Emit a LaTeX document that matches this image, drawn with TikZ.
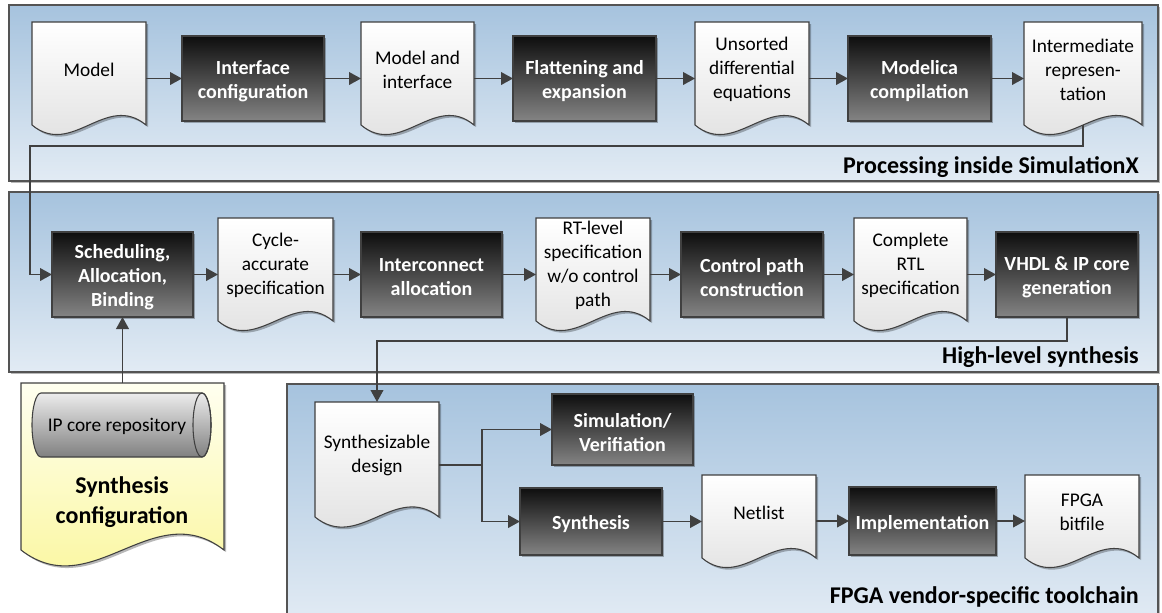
\documentclass[tikz,border=0pt]{standalone}
\usepackage{fontspec}
\setmainfont{Carlito}
\usetikzlibrary{arrows.meta,calc,fit,shadows}

\definecolor{panelTop}{RGB}{166,195,222}
\definecolor{panelBot}{RGB}{226,235,244}
\definecolor{frameC}{RGB}{84,84,84}
\definecolor{lineC}{RGB}{64,64,64}
\definecolor{boxTop}{RGB}{14,14,14}
\definecolor{boxBot}{RGB}{132,132,132}
\definecolor{docBot}{RGB}{222,222,222}
\definecolor{cfgTop}{RGB}{255,255,240}
\definecolor{cfgBot}{RGB}{250,246,150}
\definecolor{cylTop}{RGB}{236,236,236}
\definecolor{cylBot}{RGB}{128,128,128}

\tikzset{
  softshadow/.style={drop shadow={shadow xshift=1.6pt, shadow yshift=-1.6pt, opacity=0.28, fill=black}},
  panel/.style={draw=frameC, line width=1.1pt, top color=panelTop, bottom color=panelBot,
    inner sep=0pt, outer sep=0pt, softshadow},
  procbox/.style={draw=lineC, line width=0.8pt, top color=boxTop, bottom color=boxBot,
    inner sep=0pt, outer sep=0pt, softshadow},
  boxtxt/.style={text=white, font=\fontsize{15}{18}\selectfont\bfseries, align=center, inner sep=0pt},
  docframe/.style={inner sep=0pt, outer sep=0pt},
  docfill/.style={draw=lineC, line width=0.8pt, top color=white, bottom color=docBot, softshadow},
  cfgfill/.style={draw=lineC, line width=0.8pt, top color=cfgTop, bottom color=cfgBot, softshadow},
  txt/.style={font=\fontsize{14.5}{18}\selectfont, align=center, text=black, inner sep=0pt},
  bigtxt/.style={font=\fontsize{18}{22}\selectfont\bfseries, align=center, text=black, inner sep=0pt},
  paneltitle/.style={font=\fontsize{18}{21}\selectfont\bfseries, anchor=east, text=black, inner sep=0pt},
  arr/.style={draw=lineC, line width=1.3pt, -{Triangle[length=9pt,width=9.5pt]}},
  wire/.style={draw=lineC, line width=1.3pt},
}

% document symbol: rectangle with a wavy lower edge
% #1 name, #2..#5 corners, #6 wave depth, #7 fill style, #8 text
\newcommand\docnode[8]{%
  \node[docframe, fit={(#2,#3)(#4,#5)}] (#1) {};
  \path[#7] (#1.north west) -- (#1.north east) -- (#1.south east)
    .. controls ($(#1.south east)!0.35!(#1.south west)+(0,-#6)$)
       and ($(#1.south east)!0.65!(#1.south west)+(0,#6)$) .. (#1.south west) -- cycle;
  \node[txt] (#1-t) at ($(#1.center)+(0,-4)$) {#8};
}
% process step: shaded box with bold white caption
% #1 name, #2..#5 corners, #6 text
\newcommand\procnode[6]{%
  \node[procbox, fit={(#2,#3)(#4,#5)}] (#1) {};
  \node[boxtxt] (#1-t) at ($(#1.center)+(0,3)$) {#6};
}

\begin{document}
\begin{tikzpicture}[x=0.75pt,y=-0.75pt]
\path[use as bounding box] (0,0) rectangle (1162,612);

% --- panels -------------------------------------------------------------
\node[panel, fit={(9,5)(1158,181)}] (p1) {};
\node[panel, fit={(9,192)(1158,372)}] (p2) {};
\node[panel, fit={(287,384)(1158,622)}] (p3) {};

\node[paneltitle] (t1) at (1139,167) {Processing inside SimulationX};
\node[paneltitle] (t2) at (1139,357) {High-level synthesis};
\node[paneltitle] (t3) at (1139,597) {FPGA vendor-specific toolchain};

% --- processing inside SimulationX --------------------------------------
\docnode{model}{32}{22}{146}{125}{33}{docfill}{Model}
\procnode{iface}{182}{36}{324}{121}{Interface\\configuration}
\docnode{modint}{361}{22}{474}{125}{33}{docfill}{Model and\\interface}
\procnode{flat}{513}{36}{656}{121}{Flattening and\\expansion}
\docnode{unsort}{695}{22}{809}{125}{33}{docfill}{Unsorted\\differential\\equations}
\procnode{modc}{848}{36}{991}{121}{Modelica\\compilation}
\docnode{inter}{1024}{22}{1142}{125}{33}{docfill}{Intermediate\\represen-\\tation}

% --- high-level synthesis ------------------------------------------------
\procnode{sched}{52}{232}{193}{317}{Scheduling,\\Allocation,\\Binding}
\docnode{cycle}{218}{218}{333}{321}{33}{docfill}{Cycle-\\accurate\\specification}
\procnode{icon}{361}{232}{502}{317}{Interconnect\\allocation}
\docnode{rtl}{536}{218}{650}{321}{33}{docfill}{RT-level\\specification\\w/o control\\path}
\procnode{ctrl}{681}{232}{823}{317}{Control path\\construction}
\docnode{crtl}{854}{218}{967}{321}{33}{docfill}{Complete\\RTL\\specification}
\procnode{vhdl}{996}{232}{1138}{317}{VHDL \& IP core\\generation}

% --- synthesis configuration -------------------------------------------
\docnode{cfg}{21}{383}{224}{550}{55}{cfgfill}{}
\node[bigtxt] (cfg-title) at (122,502) {Synthesis\\configuration};
\node[inner sep=0pt, outer sep=0pt, fit={(32,393)(211,457)}] (repo) {};
\path[draw=lineC, line width=0.8pt, top color=cylTop, bottom color=cylBot]
  (41,393) -- (202,393) arc (-90:90:9 and 32) -- (41,457) arc (90:270:9 and 32) -- cycle;
\draw[lineC, line width=0.8pt] (202,425) ellipse (9 and 32);
\node[txt] (repo-t) at (117,426) {IP core repository};

% --- FPGA toolchain ------------------------------------------------------
\docnode{synth}{315}{402}{439}{517}{35}{docfill}{Synthesizable\\design}
\procnode{sim}{552}{394}{693}{465}{Simulation/\\Verifiation}
\procnode{syn}{520}{488}{662}{555}{Synthesis}
\docnode{net}{702}{475}{816}{558}{33}{docfill}{Netlist}
\procnode{impl}{849}{487}{996}{555}{Implementation}
\docnode{fpga}{1025}{475}{1139}{558}{33}{docfill}{FPGA\\bitfile}

% --- connectors ----------------------------------------------------------
\draw[arr] (iface.west -| model.east) -- (iface.west);
\draw[arr] (iface.east) -- (iface.east -| modint.west);
\draw[arr] (flat.west -| modint.east) -- (flat.west);
\draw[arr] (flat.east) -- (flat.east -| unsort.west);
\draw[arr] (modc.west -| unsort.east) -- (modc.west);
\draw[arr] (modc.east) -- (modc.east -| inter.west);

\coordinate (loopA) at (30,146);
\draw[arr] (inter.south) |- (loopA) |- (sched.west);

\draw[arr] (sched.east) -- (sched.east -| cycle.west);
\draw[arr] (icon.west -| cycle.east) -- (icon.west);
\draw[arr] (icon.east) -- (icon.east -| rtl.west);
\draw[arr] (ctrl.west -| rtl.east) -- (ctrl.west);
\draw[arr] (ctrl.east) -- (ctrl.east -| crtl.west);
\draw[arr] (vhdl.west -| crtl.east) -- (vhdl.west);

\draw[arr] (cfg.north) -- (sched.south);

\coordinate (loopB) at (synth.north |- 0,341);
\draw[arr] (vhdl.south) |- (loopB) -- (synth.north);

\coordinate (split) at (482,465);
\draw[wire] (split -| synth.east) -- (split);
\draw[arr] (split) |- (sim.west);
\draw[arr] (split) |- (syn.west);
\draw[arr] (syn.east) -- (syn.east -| net.west);
\draw[arr] (impl.west -| net.east) -- (impl.west);
\draw[arr] (impl.east) -- (impl.east -| fpga.west);
\end{tikzpicture}
\end{document}
